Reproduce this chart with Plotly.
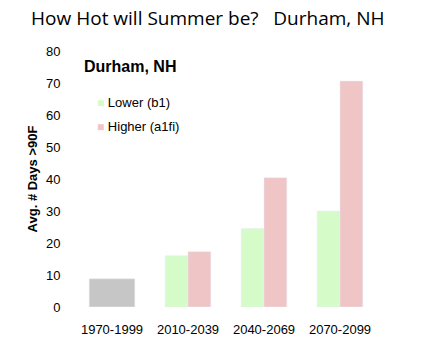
import plotly.graph_objects as go

periods = ["1970-1999", "2010-2039", "2040-2069", "2070-2099"]
historical = [8.8, None, None, None]
lower_b1 = [None, 16, 24.5, 30]
higher_a1fi = [None, 17.3, 40.4, 70.6]
y_ticks = [0, 10, 20, 30, 40, 50, 60, 70, 80]
colors = {"hist": "#c6c6c6", "lower": "#d5fbc8", "higher": "#efc5c6"}

fig = go.Figure()
fig.add_bar(x=periods, y=historical, width=0.6, offset=-0.3,
            marker=dict(color=colors["hist"]), showlegend=False, name="1970-1999")
fig.add_bar(x=periods, y=lower_b1, width=0.3, offset=-0.3,
            marker=dict(color=colors["lower"]), showlegend=False, name="Lower (b1)")
fig.add_bar(x=periods, y=higher_a1fi, width=0.3, offset=0.0,
            marker=dict(color=colors["higher"]), showlegend=False, name="Higher (a1fi)")

def legend_item(name, color, y):
    return dict(text=f"<span style='font-size:12px;color:{color}'>■</span> {name}",
                xref="paper", yref="paper", x=0.07, y=y, xanchor="left",
                yanchor="middle", showarrow=False,
                font=dict(size=13, color="black"))

fig.update_layout(
    width=432, height=361,
    margin=dict(l=74, r=54, t=51, b=54, autoexpand=False),
    barmode="overlay",
    paper_bgcolor="white", plot_bgcolor="white",
    font=dict(family="Liberation Sans, Arial", color="black", size=13),
    title=dict(text="How Hot will Summer be?   Durham, NH",
               font=dict(family="Open Sans", size=19, color="black"),
               x=0.072, xanchor="left", y=0.95, yanchor="middle"),
    annotations=[
        dict(text="<b>Durham, NH</b>", xref="paper", yref="paper",
             x=0.025, y=0.94, xanchor="left", yanchor="middle",
             showarrow=False, font=dict(size=16, color="black")),
        legend_item("Lower (b1)", colors["lower"], 0.797),
        legend_item("Higher (a1fi)", colors["higher"], 0.707),
    ],
)
fig.update_xaxes(range=[-0.5, 3.5], showline=False, ticks="outside",
                 ticklen=10, tickcolor="rgba(0,0,0,0)", automargin=False,
                 tickfont=dict(size=13))
fig.update_yaxes(range=[0, 80], tickvals=y_ticks, showgrid=False,
                 zeroline=False, showline=False, ticks="outside",
                 ticklen=10, tickcolor="rgba(0,0,0,0)", automargin=False,
                 tickfont=dict(size=13),
                 title=dict(text="<b>Avg. # Days >90F</b>", font=dict(size=13),
                            standoff=5))

fig.write_html("out.html", config={"displayModeBar": False},
               post_script="document.body.style.margin='0';")
